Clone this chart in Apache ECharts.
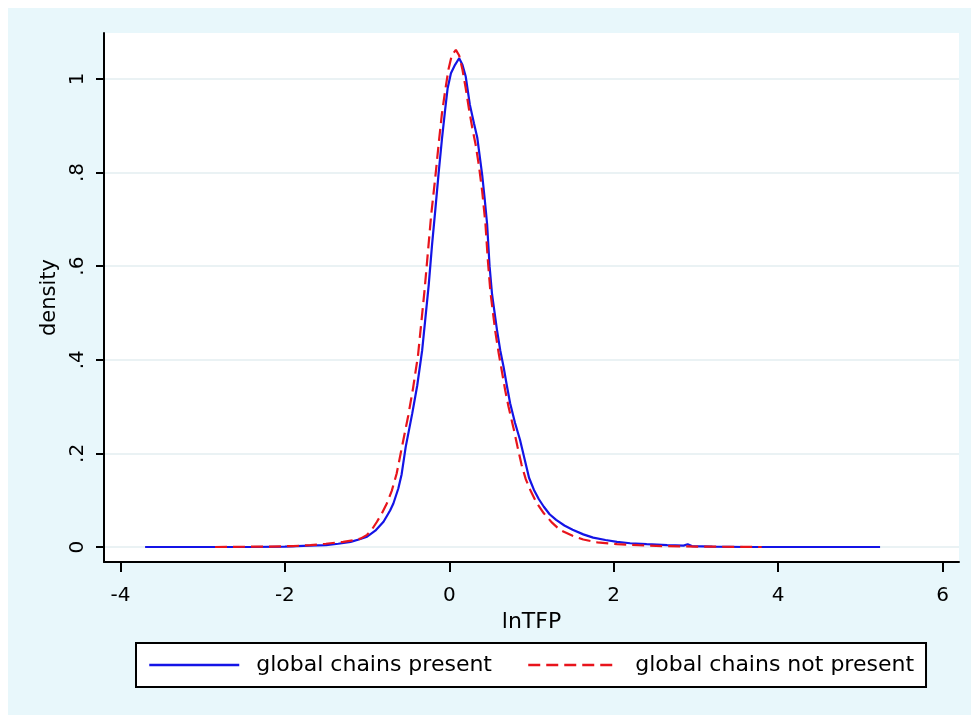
<!DOCTYPE html>
<html>
<head>
<meta charset="utf-8">
<script src="https://cdn.jsdelivr.net/npm/echarts@6/dist/echarts.min.js"></script>
<style>
    html, body { margin: 0; padding: 0; background: #fff; }
    #bg { position: absolute; left: 8px; top: 8px; width: 963px; height: 707px; background: #e8f7fb; }
    #main { position: absolute; left: 0; top: 0; width: 971px; height: 715px; }
</style>
</head>
<body>
<div id="bg"></div>
<div id="main"></div>
<script>
var seriesNames = ['global chains present', 'global chains not present'];
var xTicks = [-4, -2, 0, 2, 4, 6];
var yTicks = [0, 0.2, 0.4, 0.6, 0.8, 1];

// kernel density, firms with global chains present
var presentX = [-3.7, -2.4, -2.0, -1.7, -1.5, -1.35, -1.2, -1.1, -1.0, -0.9, -0.8, -0.72, -0.68, -0.62, -0.58, -0.53,
    -0.45, -0.39, -0.33, -0.29, -0.25, -0.21, -0.17, -0.13, -0.09, -0.05, -0.02, 0.02, 0.07, 0.12, 0.16, 0.2, 0.25,
    0.3, 0.34, 0.37, 0.4, 0.43, 0.46, 0.49, 0.52, 0.58, 0.62, 0.66, 0.7, 0.74, 0.8, 0.86, 0.92, 0.97, 1.03, 1.09, 1.15,
    1.22, 1.3, 1.4, 1.5, 1.63, 1.75, 1.9, 2.04, 2.2, 2.4, 2.65, 2.85, 2.9, 2.95, 3.2, 3.6, 5.24];
var presentY = [0, 0, 0.001, 0.003, 0.004, 0.007, 0.011, 0.016, 0.022, 0.035, 0.054, 0.078, 0.093, 0.125, 0.155, 0.214,
    0.286, 0.345, 0.42, 0.49, 0.56, 0.645, 0.72, 0.798, 0.87, 0.935, 0.98, 1.012, 1.03, 1.044, 1.03, 1.005, 0.945,
    0.905, 0.875, 0.835, 0.795, 0.745, 0.69, 0.6, 0.54, 0.464, 0.42, 0.385, 0.345, 0.307, 0.265, 0.229, 0.185, 0.148,
    0.122, 0.102, 0.086, 0.07, 0.058, 0.046, 0.037, 0.027, 0.02, 0.015, 0.011, 0.008, 0.006, 0.004, 0.003, 0.006,
    0.002, 0.001, 0, 0];

// kernel density, firms with global chains not present
var absentX = [-2.85, -2.2, -1.9, -1.69, -1.5, -1.29, -1.15, -1.08, -1.0, -0.95, -0.88, -0.82, -0.76, -0.7, -0.64,
    -0.58, -0.5, -0.44, -0.38, -0.34, -0.3, -0.26, -0.22, -0.17, -0.13, -0.09, -0.05, -0.01, 0.03, 0.08, 0.12, 0.16,
    0.2, 0.24, 0.28, 0.32, 0.36, 0.4, 0.44, 0.47, 0.5, 0.56, 0.6, 0.64, 0.68, 0.72, 0.78, 0.83, 0.88, 0.93, 0.985,
    1.06, 1.15, 1.25, 1.35, 1.5, 1.63, 1.8, 2.04, 2.3, 2.6, 3.0, 3.8];
var absentY = [0, 0.001, 0.002, 0.004, 0.007, 0.011, 0.015, 0.018, 0.026, 0.035, 0.054, 0.072, 0.093, 0.12, 0.157,
    0.21, 0.28, 0.34, 0.41, 0.48, 0.55, 0.63, 0.71, 0.79, 0.86, 0.925, 0.975, 1.02, 1.05, 1.062, 1.05, 1.02,
    0.98, 0.935, 0.895, 0.86, 0.815, 0.76, 0.69, 0.61, 0.545, 0.46, 0.415, 0.375, 0.335, 0.30, 0.255, 0.214, 0.175,
    0.145, 0.122, 0.095, 0.072, 0.052, 0.036, 0.024, 0.016, 0.01, 0.006, 0.004, 0.002, 0.001, 0];

function pairs(xs, ys) {
    var out = [];
    for (var i = 0; i < xs.length; i++) out.push([xs[i], ys[i]]);
    return out;
}

var font = 'DejaVu Sans';
var myChart = echarts.init(document.getElementById('main'));
var option = {
    backgroundColor: 'transparent',
    animation: false,
    grid: {
        left: 104, right: 12, top: 33, bottom: 153,
        show: true, backgroundColor: '#fff', borderWidth: 0
    },
    legend: {
        left: 136, top: 643,
        orient: 'horizontal',
        backgroundColor: '#fff',
        borderColor: '#000',
        borderWidth: 2,
        borderRadius: 0,
        padding: [11, 12, 11, 12],
        itemWidth: 90,
        itemHeight: 14,
        itemGap: 35,
        itemStyle: { opacity: 0 },
        lineStyle: { width: 2.5 },
        textStyle: { fontFamily: font, fontSize: 22, color: '#000', padding: [0, 0, 0, 12] },
        data: seriesNames
    },
    xAxis: {
        type: 'value',
        min: -4.2, max: 6.2,
        name: 'lnTFP',
        nameLocation: 'middle',
        nameGap: 44,
        nameTextStyle: { fontFamily: font, fontSize: 22, color: '#000' },
        axisLine: { onZero: false, lineStyle: { color: '#000', width: 2 } },
        axisTick: { customValues: xTicks, length: 10, lineStyle: { color: '#000', width: 2 } },
        axisLabel: { customValues: xTicks, margin: 24, fontFamily: font, fontSize: 20, color: '#000' },
        splitLine: { show: false }
    },
    yAxis: {
        type: 'value',
        min: -0.032, max: 1.098,
        name: 'density',
        nameLocation: 'middle',
        nameGap: 40,
        nameTextStyle: { fontFamily: font, fontSize: 21, color: '#000' },
        axisLine: { onZero: false, lineStyle: { color: '#000', width: 2 } },
        axisTick: { customValues: yTicks, length: 8, lineStyle: { color: '#000', width: 2 } },
        axisLabel: {
            customValues: yTicks, rotate: 90, margin: 16,
            fontFamily: font, fontSize: 20, color: '#000',
            formatter: function(v) {
                if (v === 0) return '0';
                if (v === 1) return '1';
                return '.' + Math.round(v * 10);
            }
        },
        splitLine: { show: true, lineStyle: { color: '#e3eef1', width: 1.5 } }
    },
    series: [{
        name: seriesNames[0],
        type: 'line',
        symbol: 'none',
        data: pairs(presentX, presentY),
        lineStyle: { color: '#1414e6', width: 2.2 },
        itemStyle: { color: '#1414e6' },
        z: 3
    }, {
        name: seriesNames[1],
        type: 'line',
        symbol: 'none',
        data: pairs(absentX, absentY),
        lineStyle: { color: '#e8141c', width: 2.2, type: [12, 6] },
        itemStyle: { color: '#e8141c' },
        z: 4
    }]
};
myChart.setOption(option);
</script>
</body>
</html>
